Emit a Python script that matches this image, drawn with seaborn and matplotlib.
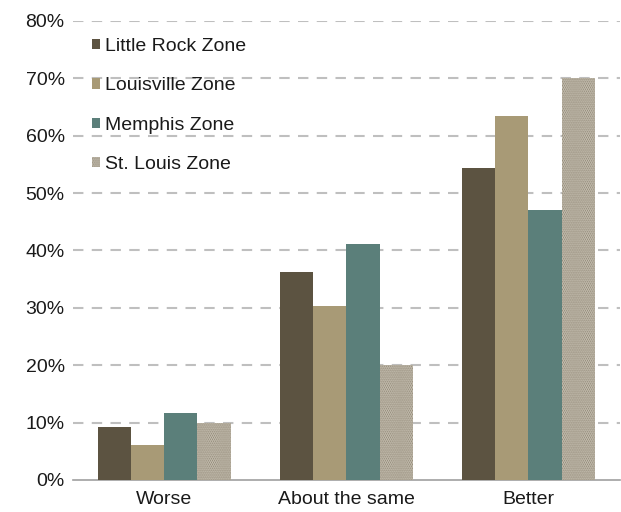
import matplotlib
matplotlib.use("Agg")
import matplotlib.pyplot as plt
import seaborn as sns
import pandas as pd
from matplotlib.patches import Patch
from matplotlib.ticker import PercentFormatter, MultipleLocator

categories = ["Worse", "About the same", "Better"]
zones = ["Little Rock Zone", "Louisville Zone", "Memphis Zone", "St. Louis Zone"]
little_rock = [9.2, 36.2, 54.4]
louisville = [6.1, 30.3, 63.4]
memphis = [11.7, 41.1, 47.0]
st_louis = [9.9, 20.0, 70.0]

colors = ["#5c5341", "#a89a76", "#5b7f7a", "#ddd7ca"]

rows = []
for zone, vals in zip(zones, [little_rock, louisville, memphis, st_louis]):
    for c, v in zip(categories, vals):
        rows.append({"Category": c, "Zone": zone, "Value": v})
df = pd.DataFrame(rows)

sns.set_style("white")
plt.rcParams["font.family"] = ["Liberation Sans", "DejaVu Sans"]
plt.rcParams["hatch.color"] = "#857c6a"
plt.rcParams["hatch.linewidth"] = 1.1

fig = plt.figure(figsize=(6.21, 5.12), dpi=100)
ax = fig.add_axes([0.1176, 0.0625, 0.880, 0.8965])

sns.barplot(data=df, x="Category", y="Value", hue="Zone", order=categories,
            hue_order=zones, palette=colors, width=0.73, saturation=1,
            legend=False, ax=ax, zorder=3, linewidth=0)

for bar in ax.containers[3]:
    bar.set_hatch("........")
    bar.set_edgecolor("#857c6a")
    bar.set_linewidth(0)

ax.set_ylim(0, 80)
ax.set_xlim(-0.5, 2.5)
ax.yaxis.set_major_locator(MultipleLocator(10))
ax.yaxis.set_major_formatter(PercentFormatter(decimals=0))
ax.set_xlabel("")
ax.set_ylabel("")

for y in range(10, 81, 10):
    ax.axhline(y, color="#bfbfbf", linestyle=(0, (5, 4)), linewidth=1.5, zorder=1)

for s in ["top", "right", "left"]:
    ax.spines[s].set_visible(False)
ax.spines["bottom"].set_color("#a0a0a0")
ax.spines["bottom"].set_linewidth(1.2)

ax.set_xticks([-0.5, 0.5, 1.5, 2.5], minor=True)
ax.tick_params(axis="x", which="major", length=0, labelsize=14, pad=8)
ax.tick_params(axis="x", which="minor", length=6, width=1.2, color="#a0a0a0", direction="out")
ax.tick_params(axis="y", length=0, labelsize=14, pad=6)
for lab in ax.get_xticklabels() + ax.get_yticklabels():
    lab.set_color("#1a1a1a")

handles = []
for z, c in zip(zones, colors):
    if z == "St. Louis Zone":
        handles.append(Patch(facecolor=c, hatch="........", edgecolor="#857c6a", linewidth=0, label=z))
    else:
        handles.append(Patch(facecolor=c, edgecolor="none", label=z))
leg = ax.legend(handles=handles, loc="upper left", bbox_to_anchor=(0.02, 0.98),
                frameon=False, fontsize=14, handlelength=0.45, handleheight=0.45,
                handletextpad=0.25, labelspacing=1.15, borderaxespad=0)
for t in leg.get_texts():
    t.set_color("#1a1a1a")

fig.savefig("out.png", dpi=100)
